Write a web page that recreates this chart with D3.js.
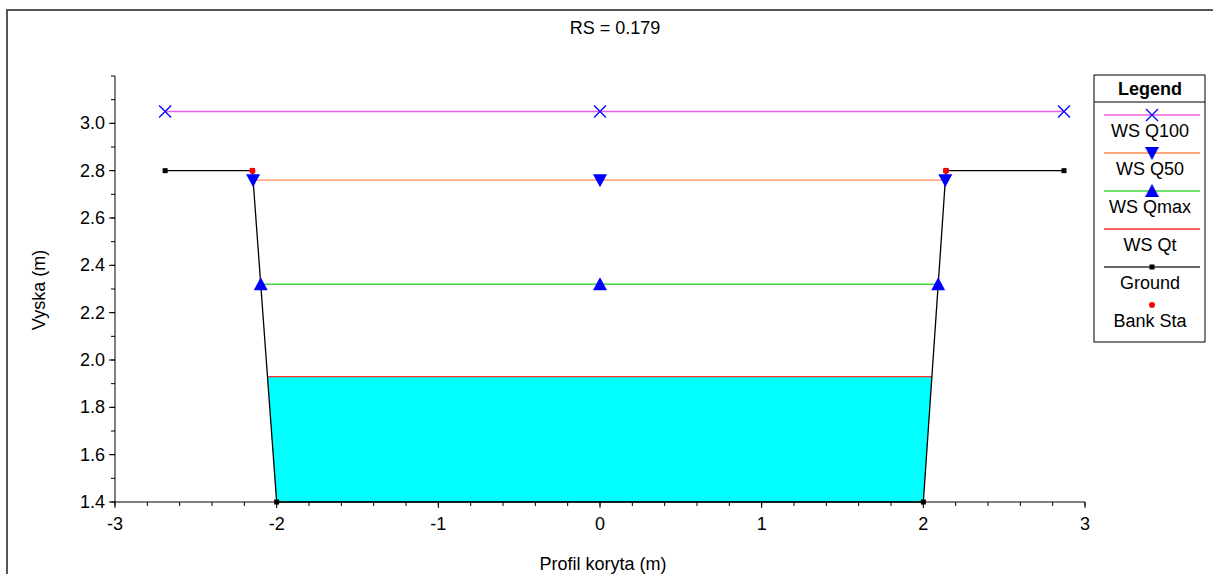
<!DOCTYPE html>
<html>
<head>
<meta charset="utf-8">
<script src="https://cdn.jsdelivr.net/npm/d3@7"></script>
<style>
  body { margin: 0; background: #fff; }
  text { font-family: "Liberation Sans", Arial, sans-serif; }
</style>
</head>
<body>
<script>
// ground profile (station, elevation)
var groundX = [-2.69, -2.15, -2.00, 2.00, 2.14, 2.87];
var groundY = [2.80, 2.80, 1.40, 1.40, 2.80, 2.80];
// bank stations
var bankX = [-2.15, 2.14];
var bankY = [2.80, 2.80];
// water surfaces
var wsNames = ["WS Q100", "WS Q50", "WS Qmax", "WS Qt"];
var wsLevels = [3.05, 2.76, 2.32, 1.93];
var wsColors = ["#e860e8", "#ff8c55", "#3ed83e", "#ff3030"];
var wsMarkers = ["x", "down", "up", null];
var xTicks = [-3, -2, -1, 0, 1, 2, 3];
var yTicks = [1.4, 1.6, 1.8, 2.0, 2.2, 2.4, 2.6, 2.8, 3.0];

var width = 1213, height = 574;

var svg = d3.select("body").append("svg")
  .attr("width", width)
  .attr("height", height);

// outer frame
svg.append("rect")
  .attr("x", 7).attr("y", 10)
  .attr("width", 1220).attr("height", 600)
  .attr("fill", "none")
  .attr("stroke", "#555")
  .attr("stroke-width", 2);

var x = d3.scaleLinear().domain([-3, 3]).range([115, 1085]);
var y = d3.scaleLinear().domain([1.4, 3.2]).range([502, 76]);

var ground = groundX.map(function(d, i){ return [d, groundY[i]]; });

// where a water level cuts the ground line
function crossings(level){
  var xs = [];
  for (var i = 0; i < ground.length - 1; i++){
    var a = ground[i], b = ground[i+1];
    if ((a[1] - level) * (b[1] - level) < 0){
      var t = (level - a[1]) / (b[1] - a[1]);
      xs.push(a[0] + t * (b[0] - a[0]));
    }
  }
  if (xs.length < 2) return [groundX[0], groundX[groundX.length-1]];
  return [xs[0], xs[xs.length-1]];
}

// water fill for Qt
var qt = wsLevels[3];
var cq = crossings(qt);
var poly = [[cq[0], qt]];
ground.forEach(function(p){
  if (p[1] < qt && p[0] > cq[0] && p[0] < cq[1]) poly.push(p);
});
poly.push([cq[1], qt]);

var line = d3.line().x(function(d){ return x(d[0]); }).y(function(d){ return y(d[1]); });

svg.append("path")
  .attr("d", line(poly) + "Z")
  .attr("fill", "#00ffff")
  .attr("stroke", "none");

// axes
var xAxis = svg.append("g").attr("transform", "translate(0," + y(1.4) + ")");
xAxis.append("line").attr("x1", x(-3)).attr("x2", x(3)).attr("stroke", "#000");
xAxis.selectAll(".minor").data(d3.range(-3, 3.001, 0.2)).enter().append("line")
  .attr("x1", function(d){ return x(d); }).attr("x2", function(d){ return x(d); })
  .attr("y1", 0).attr("y2", 4).attr("stroke", "#000");
xAxis.selectAll(".major").data(xTicks).enter().append("line")
  .attr("x1", function(d){ return x(d); }).attr("x2", function(d){ return x(d); })
  .attr("y1", 0).attr("y2", 6).attr("stroke", "#000");
xAxis.selectAll("text").data(xTicks).enter().append("text")
  .attr("x", function(d){ return x(d); })
  .attr("y", 28)
  .attr("text-anchor", "middle")
  .attr("font-size", 18)
  .text(function(d){ return d; });

var yAxis = svg.append("g").attr("transform", "translate(" + x(-3) + ",0)");
yAxis.append("line").attr("y1", y(1.4)).attr("y2", y(3.2)).attr("stroke", "#000");
yAxis.selectAll(".minor").data(d3.range(1.4, 3.201, 0.1)).enter().append("line")
  .attr("y1", function(d){ return y(d); }).attr("y2", function(d){ return y(d); })
  .attr("x1", 0).attr("x2", -4).attr("stroke", "#000");
yAxis.selectAll(".major").data(yTicks).enter().append("line")
  .attr("y1", function(d){ return y(d); }).attr("y2", function(d){ return y(d); })
  .attr("x1", 0).attr("x2", -6).attr("stroke", "#000");
yAxis.selectAll("text").data(yTicks).enter().append("text")
  .attr("x", -10)
  .attr("y", function(d){ return y(d) + 6; })
  .attr("text-anchor", "end")
  .attr("font-size", 18)
  .text(function(d){ return d.toFixed(1); });

svg.append("text")
  .attr("x", 603).attr("y", 570)
  .attr("text-anchor", "middle")
  .attr("font-size", 18)
  .text("Profil koryta (m)");

svg.append("text")
  .attr("transform", "translate(45,290) rotate(-90)")
  .attr("text-anchor", "middle")
  .attr("font-size", 18)
  .text("Vyska (m)");

svg.append("text")
  .attr("x", 615).attr("y", 34)
  .attr("text-anchor", "middle")
  .attr("font-size", 18)
  .text("RS = 0.179");

// markers
function drawMarker(g, type, cx, cy){
  if (type == "x"){
    g.append("path")
      .attr("d", "M" + (cx-6) + "," + (cy-6) + "L" + (cx+6) + "," + (cy+6) +
                 "M" + (cx-6) + "," + (cy+6) + "L" + (cx+6) + "," + (cy-6))
      .attr("stroke", "#0000ff").attr("stroke-width", 1.3);
  } else if (type == "down"){
    g.append("path")
      .attr("d", "M" + (cx-7) + "," + (cy-6) + "L" + (cx+7) + "," + (cy-6) + "L" + cx + "," + (cy+7) + "Z")
      .attr("fill", "#0000ff");
  } else if (type == "up"){
    g.append("path")
      .attr("d", "M" + (cx-7) + "," + (cy+6) + "L" + (cx+7) + "," + (cy+6) + "L" + cx + "," + (cy-7) + "Z")
      .attr("fill", "#0000ff");
  } else if (type == "square"){
    g.append("rect").attr("x", cx-2.5).attr("y", cy-2.5).attr("width", 5).attr("height", 5).attr("fill", "#000");
  } else if (type == "dot"){
    g.append("circle").attr("cx", cx).attr("cy", cy).attr("r", 3).attr("fill", "#ff0000");
  }
}

// water surface lines
var wsG = svg.append("g");
wsLevels.forEach(function(lv, i){
  var c = crossings(lv);
  wsG.append("line")
    .attr("x1", x(c[0])).attr("x2", x(c[1]))
    .attr("y1", y(lv)).attr("y2", y(lv))
    .attr("stroke", wsColors[i]).attr("stroke-width", 1.3);
});

// ground line
svg.append("path")
  .attr("d", line(ground))
  .attr("fill", "none")
  .attr("stroke", "#000")
  .attr("stroke-width", 1.3);

// ground points
var mG = svg.append("g");
ground.forEach(function(p){ drawMarker(mG, "square", x(p[0]), y(p[1])); });

// ws markers: both ends and the centre station
wsLevels.forEach(function(lv, i){
  if (!wsMarkers[i]) return;
  var c = crossings(lv);
  [c[0], 0, c[1]].forEach(function(s){
    drawMarker(mG, wsMarkers[i], x(s), y(lv));
  });
});

// bank stations
bankX.forEach(function(b, i){ drawMarker(mG, "dot", x(b), y(bankY[i])); });

// legend
var lg = svg.append("g");
lg.append("rect").attr("x", 1094).attr("y", 75).attr("width", 111).attr("height", 267)
  .attr("fill", "#fff").attr("stroke", "#000");
lg.append("line").attr("x1", 1094).attr("x2", 1205).attr("y1", 102).attr("y2", 102).attr("stroke", "#000");
lg.append("text").attr("x", 1150).attr("y", 95).attr("text-anchor", "middle")
  .attr("font-size", 18).attr("font-weight", "bold").text("Legend");

var legNames = wsNames.concat(["Ground", "Bank Sta"]);
var legColors = wsColors.concat(["#333", null]);
var legMarks = wsMarkers.concat(["square", "dot"]);
legNames.forEach(function(n, i){
  var ly = 115 + i * 38;
  if (legColors[i]){
    lg.append("line").attr("x1", 1104).attr("x2", 1200).attr("y1", ly).attr("y2", ly)
      .attr("stroke", legColors[i]).attr("stroke-width", 1.3);
  }
  if (legMarks[i]) drawMarker(lg, legMarks[i], 1152, ly);
  lg.append("text").attr("x", 1150).attr("y", ly + 22).attr("text-anchor", "middle")
    .attr("font-size", 18).text(n);
});
</script>
</body>
</html>
